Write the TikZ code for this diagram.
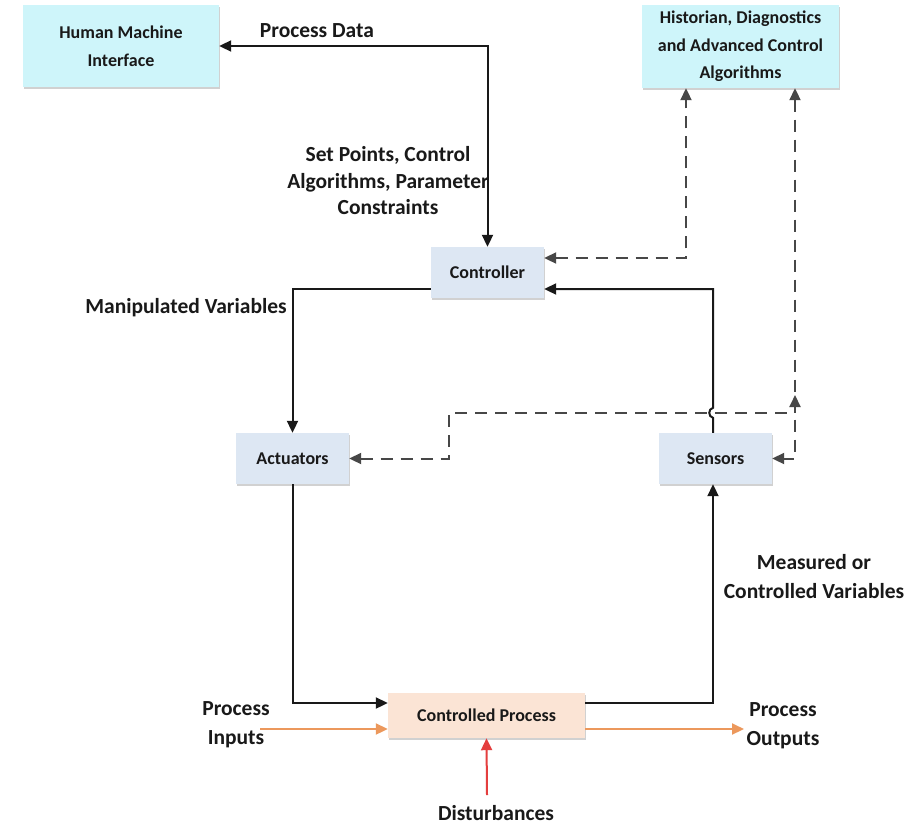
\documentclass[tikz,border=0pt]{standalone}
\usepackage{fontspec}
\setmainfont{Carlito}
\usetikzlibrary{arrows.meta,calc,shadows}
\definecolor{cyanbox}{RGB}{206,245,250}
\definecolor{bluebox}{RGB}{221,231,243}
\definecolor{peachbox}{RGB}{251,228,213}
\definecolor{orangeln}{RGB}{236,152,92}
\definecolor{redln}{RGB}{228,62,62}
\definecolor{ink}{RGB}{25,25,25}
\begin{document}
\begin{tikzpicture}[x=1pt,y=-1pt,
  box/.style={rectangle, inner sep=0pt, align=center, text=ink,
    font=\bfseries\fontsize{18}{28}\selectfont,
    drop shadow={shadow xshift=1.2pt, shadow yshift=-1.8pt, opacity=0.18, fill=black}},
  lab/.style={align=center, inner sep=0pt, text=ink,
    font=\bfseries\fontsize{21.5}{29}\selectfont},
  tip/.tip={Triangle[length=12pt,width=11pt]},
  arr/.style={line width=2pt, draw=ink, -tip},
  arrboth/.style={line width=2pt, draw=ink, tip-tip},
  dashln/.style={line width=2pt, draw=black!72, dash pattern=on 12pt off 8pt, tip-tip},
  orangearr/.style={line width=2pt, draw=orangeln, -{Triangle[length=12pt,width=11pt,fill=orangeln]}},
  redarr/.style={line width=2pt, draw=redln, -{Triangle[length=12pt,width=11pt,fill=redln]}}
]
\useasboundingbox[fill=white] (0,0) rectangle (917,825);

% boxes
\node[box, fill=cyanbox, minimum width=196pt, minimum height=82pt] (hmi) at (121,46) {Human Machine\\Interface};
\node[box, fill=cyanbox, minimum width=197pt, minimum height=83pt, font=\bfseries\fontsize{18}{27.5}\selectfont] (hist) at (740.5,46.5) {Historian, Diagnostics\\and Advanced Control\\Algorithms};
\node[box, fill=bluebox, minimum width=113pt, minimum height=51pt] (ctrl) at (487.5,272.5) {Controller};
\node[box, fill=bluebox, minimum width=113pt, minimum height=51pt] (act) at (292.5,458.5) {Actuators};
\node[box, fill=bluebox, minimum width=113pt, minimum height=51pt] (sens) at (715.5,458.5) {Sensors};
\node[box, fill=peachbox, minimum width=197pt, minimum height=45pt] (proc) at (486.5,715.5) {Controlled Process};

% labels
\node[lab] (lpd) at (317,31) {Process Data};
\node[lab, font=\bfseries\fontsize{21.5}{26.5}\selectfont] (lsp) at (388,181) {Set Points, Control\\Algorithms, Parameter\\Constraints};
\node[lab] (lmv) at (186,308) {Manipulated Variables};
\node[lab] (lmc) at (814,577) {Measured or\\Controlled Variables};
\node[lab] (lpi) at (236,725) {Process\\Inputs};
\node[lab] (lpo) at (783,726) {Process\\Outputs};
\node[lab] (ldi) at (496,813) {Disturbances};

% coordinates
\coordinate (ja) at (449,413);
\coordinate (jb) at (795,395);
\coordinate (pin) at (260,729);
\coordinate (pout) at (744,729);
\coordinate (dist) at (487,795);

% solid connectors
\draw[arrboth] (hmi.east) -| (ctrl.north);
\draw[arr] ($(ctrl.west)+(0,16.5)$) -| (act.north);
\draw[arr] (act.south) |- ($(proc.west)+(0,-12.5)$);
\draw[arr] ($(proc.east)+(0,-12.5)$) -| ($(sens.south)+(-2.5,0)$);
\draw[arr] ($(sens.north)+(-2.5,0)$) -- ++(0,-15)
   .. controls +(-5,-1) and +(-5,1) .. ++(0,-10)
   |- ($(ctrl.east)+(0,16.5)$);

% dashed connectors
\draw[dashln] ($(ctrl.east)+(0,-14.5)$) -| ($(hist.south)+(-54.5,0)$);
\draw[dashln] ($(hist.south)+(54.5,0)$) |- (sens.east);
\draw[dashln] (act.east) -| (ja) -| (jb);

% process flow
\draw[orangearr] (pin) -- ($(proc.west)+(0,13.5)$);
\draw[orangearr] ($(proc.east)+(0,13.5)$) -- (pout);
\draw[redarr] (dist) -- (proc.south);
\end{tikzpicture}
\end{document}
